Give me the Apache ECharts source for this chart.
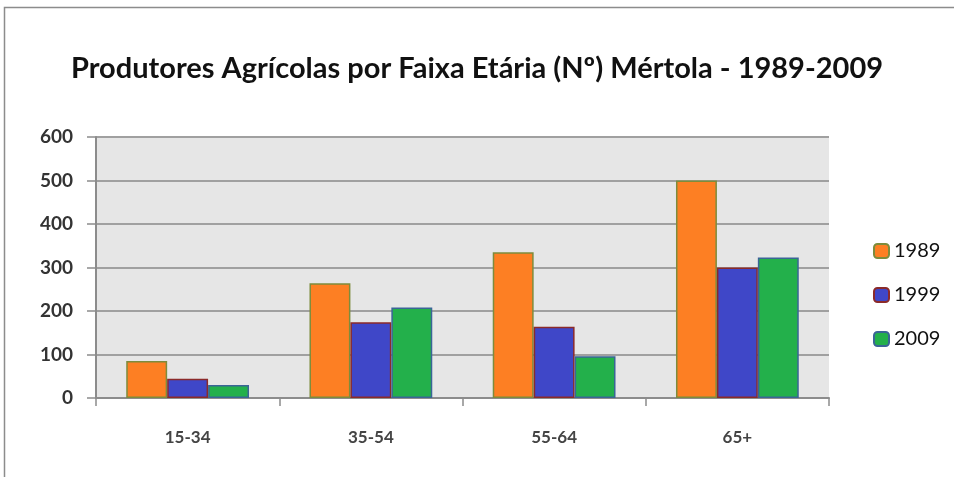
<!DOCTYPE html>
<html><head><meta charset="utf-8">
<script src="https://cdn.jsdelivr.net/npm/echarts@6/dist/echarts.min.js"></script>
<style>html,body{margin:0;padding:0;background:#fff}#c{width:954px;height:477px}</style>
</head><body><div id="c"></div>
<script>
const categories = ['15-34', '35-54', '55-64', '65+'];
const seriesNames = ['1989', '1999', '2009'];
const v1989 = [85, 264, 335, 500];
const v1999 = [44, 174, 164, 300];
const v2009 = [30, 208, 96, 323];
const yTicks = [0, 100, 200, 300, 400, 500, 600];

const fills = ['#fd7f23', '#3f47c8', '#23b04b'];
const borders = ['#7d8c3c', '#8b2a2a', '#3a6596'];
const values = [v1989, v1999, v2009];

const chart = echarts.init(document.getElementById('c'), null, {renderer: 'canvas'});
chart.setOption({
  backgroundColor: '#fff',
  animation: false,
  graphic: [{
    type: 'rect', shape: {x: 4.5, y: 7.5, width: 1000, height: 600},
    style: {fill: 'none', stroke: '#8c8c8c', lineWidth: 1.5}, silent: true, z: -1
  }],
  title: {
    text: 'Produtores Agrícolas por Faixa Etária (Nº) Mértola - 1989-2009',
    left: 'center', top: 49,
    textStyle: {fontFamily: 'Lato', fontWeight: 'bold', fontSize: 29, color: '#111'}
  },
  legend: {
    orient: 'vertical', left: 868, top: 236, itemGap: 24,
    itemWidth: 15, itemHeight: 14,
    textStyle: {fontFamily: 'Lato', fontSize: 20, color: '#111'},
    data: seriesNames
  },
  grid: {left: 96, right: 125, top: 137, bottom: 79, show: true, backgroundColor: '#e6e6e6', borderWidth: 0},
  xAxis: {
    type: 'category', data: categories,
    axisLine: {lineStyle: {color: '#8c8c8c', width: 2}},
    axisTick: {show: true, length: 8, lineStyle: {color: '#8c8c8c', width: 1.5}},
    axisLabel: {margin: 31, fontFamily: 'Lato', fontSize: 17, fontWeight: 'bold', color: '#444'}
  },
  yAxis: {
    type: 'value', min: yTicks[0], max: yTicks[yTicks.length - 1], interval: 100,
    axisLine: {show: true, lineStyle: {color: '#8c8c8c', width: 2}},
    axisTick: {show: true, length: 9, lineStyle: {color: '#8c8c8c', width: 1.5}},
    splitLine: {lineStyle: {color: '#a0a0a0', width: 2}},
    axisLabel: {margin: 23, fontFamily: 'Lato', fontSize: 19, fontWeight: 'bold', color: '#333'}
  },
  series: seriesNames.map((n, i) => ({
    name: n, type: 'bar', data: values[i],
    barGap: '0%', barCategoryGap: '33%',
    itemStyle: {color: fills[i], borderColor: borders[i], borderWidth: 1.5}
  }))
});
</script></body></html>
